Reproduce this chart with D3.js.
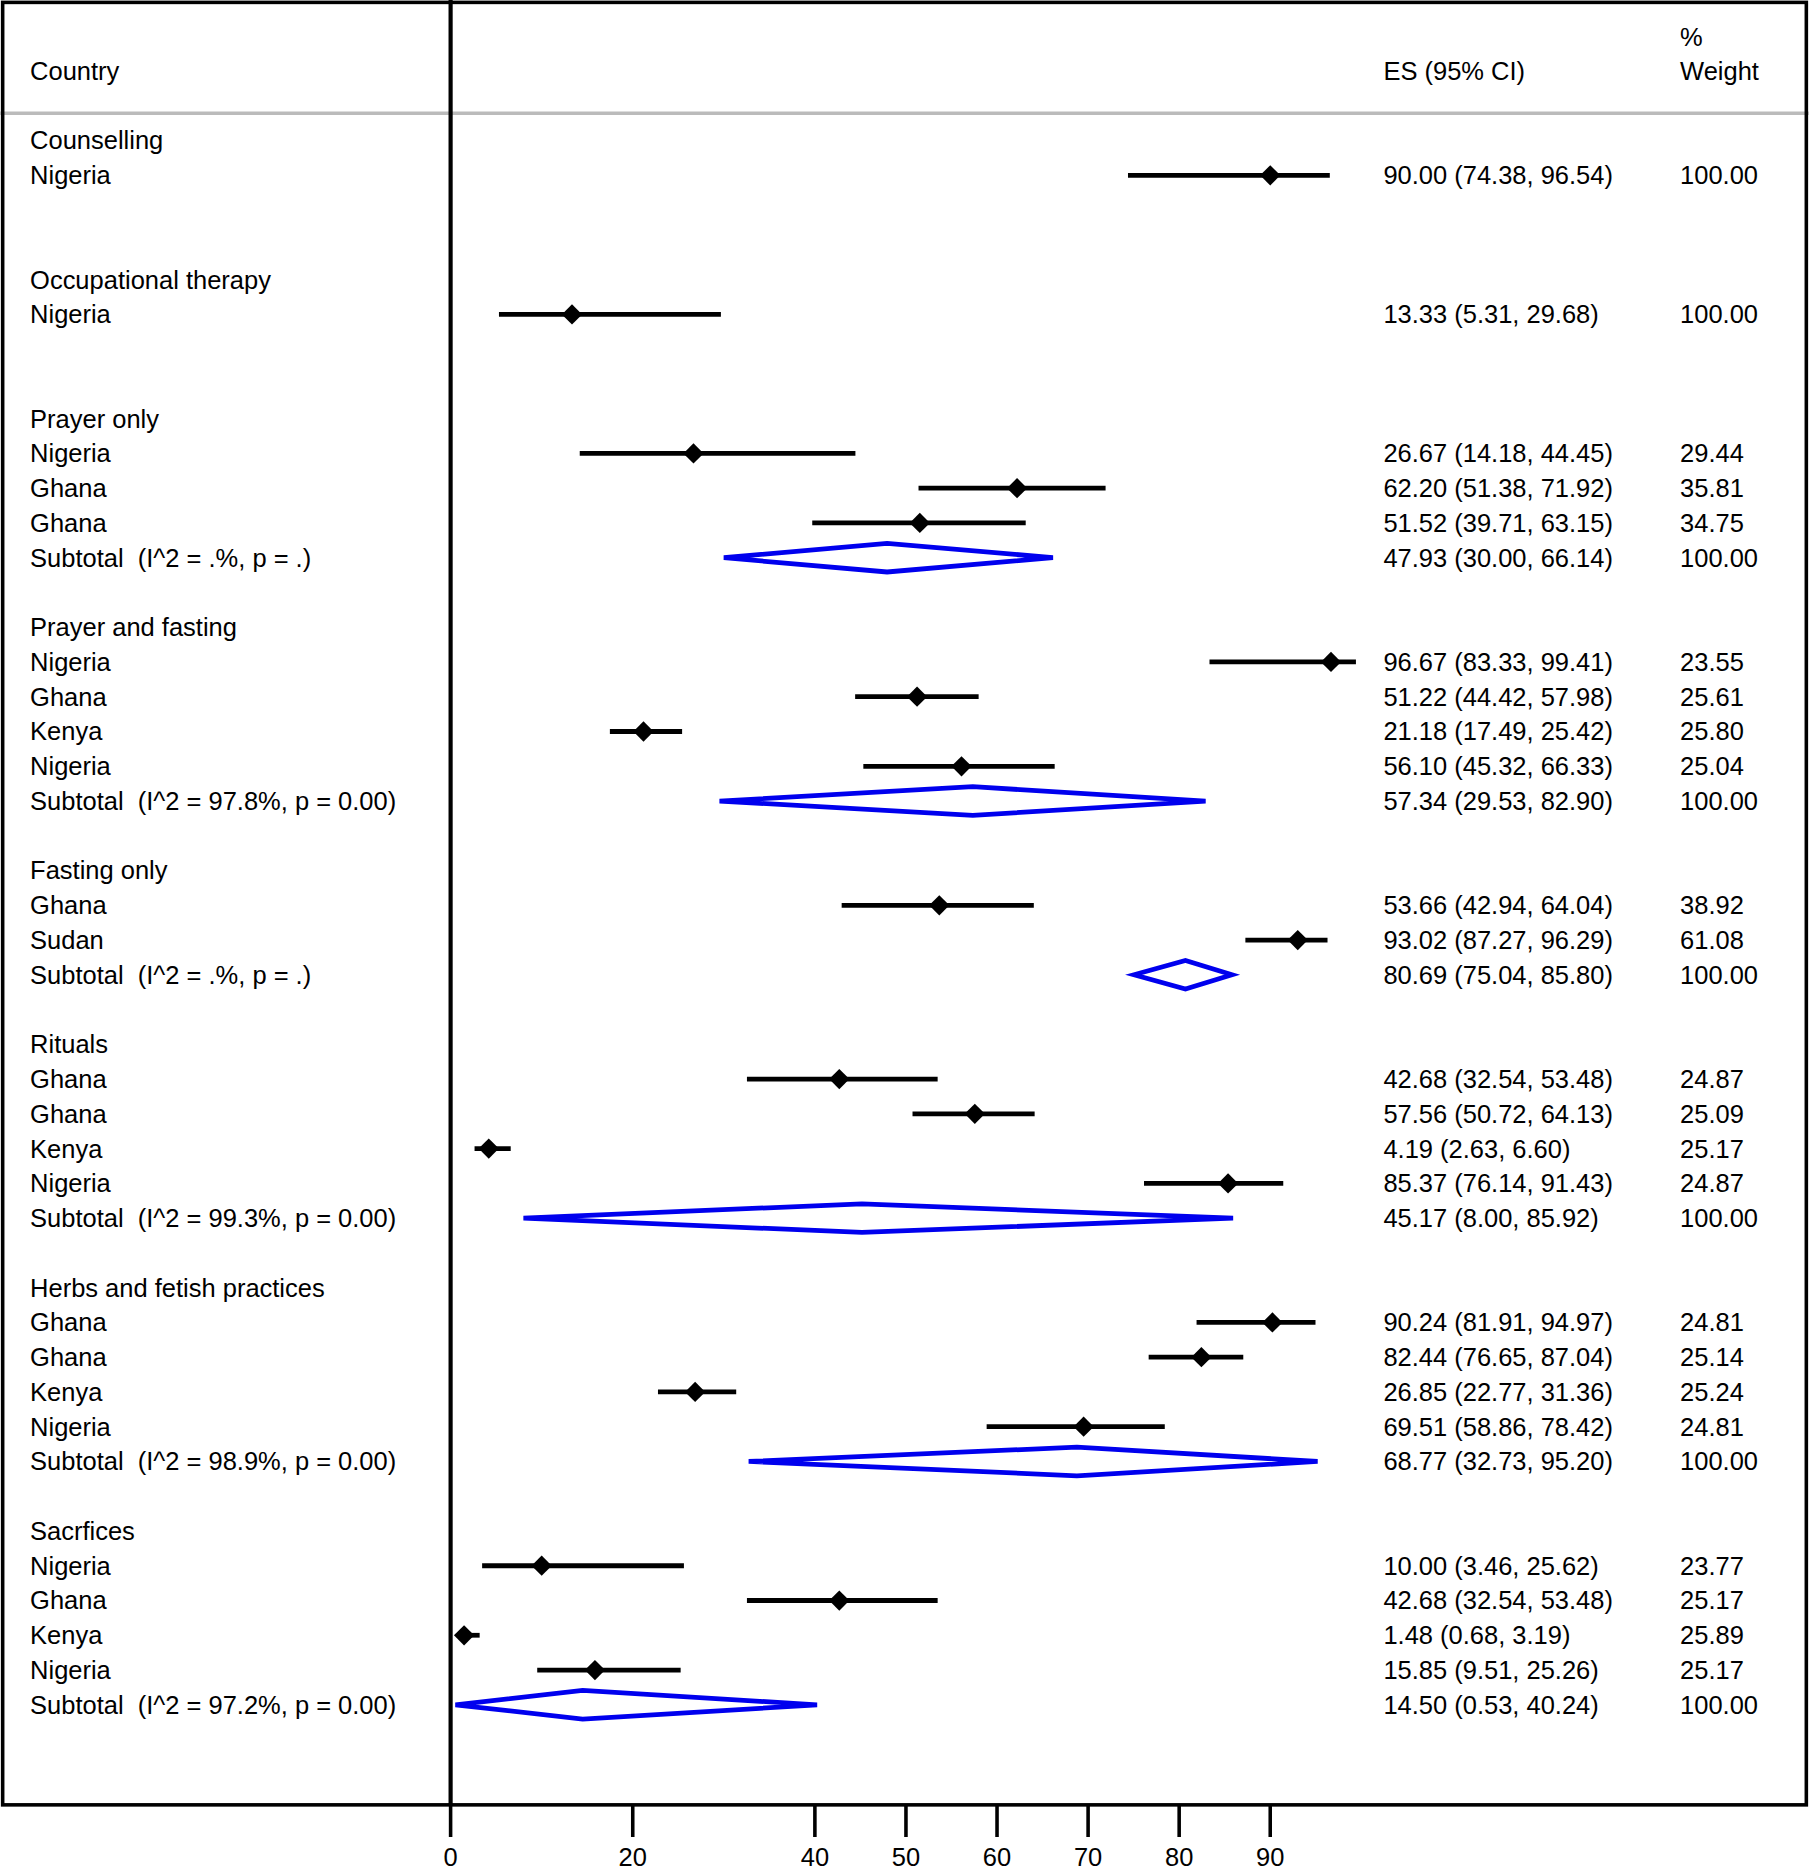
<!DOCTYPE html>
<html><head><meta charset="utf-8">
<script src="https://cdn.jsdelivr.net/npm/d3@7"></script>
<style>body{margin:0;background:#fff}text{font-family:"Liberation Sans",Arial,sans-serif;white-space:pre}</style>
</head><body>
<svg id="c" width="1809" height="1868" viewBox="0 0 1518 1568"></svg>
<script>
// row index, label, type (h=heading, s=study, t=subtotal), es, lo, hi, weight
const rowIdx = [0,1,4,5,8,9,10,11,12,14,15,16,17,18,19,21,22,23,24,26,27,28,29,30,31,33,34,35,36,37,38,40,41,42,43,44,45];
const labels = ["Counselling","Nigeria","Occupational therapy","Nigeria","Prayer only","Nigeria","Ghana","Ghana","Subtotal  (I^2 = .%, p = .)",
"Prayer and fasting","Nigeria","Ghana","Kenya","Nigeria","Subtotal  (I^2 = 97.8%, p = 0.00)",
"Fasting only","Ghana","Sudan","Subtotal  (I^2 = .%, p = .)",
"Rituals","Ghana","Ghana","Kenya","Nigeria","Subtotal  (I^2 = 99.3%, p = 0.00)",
"Herbs and fetish practices","Ghana","Ghana","Kenya","Nigeria","Subtotal  (I^2 = 98.9%, p = 0.00)",
"Sacrfices","Nigeria","Ghana","Kenya","Nigeria","Subtotal  (I^2 = 97.2%, p = 0.00)"];
const types = ["h","s","h","s","h","s","s","s","t","h","s","s","s","s","t","h","s","s","t","h","s","s","s","s","t","h","s","s","s","s","t","h","s","s","s","s","t"];
const es = [null,90.00,null,13.33,null,26.67,62.20,51.52,47.93,null,96.67,51.22,21.18,56.10,57.34,null,53.66,93.02,80.69,null,42.68,57.56,4.19,85.37,45.17,null,90.24,82.44,26.85,69.51,68.77,null,10.00,42.68,1.48,15.85,14.50];
const lo = [null,74.38,null,5.31,null,14.18,51.38,39.71,30.00,null,83.33,44.42,17.49,45.32,29.53,null,42.94,87.27,75.04,null,32.54,50.72,2.63,76.14,8.00,null,81.91,76.65,22.77,58.86,32.73,null,3.46,32.54,0.68,9.51,0.53];
const hi = [null,96.54,null,29.68,null,44.45,71.92,63.15,66.14,null,99.41,57.98,25.42,66.33,82.90,null,64.04,96.29,85.80,null,53.48,64.13,6.60,91.43,85.92,null,94.97,87.04,31.36,78.42,95.20,null,25.62,53.48,3.19,25.26,40.24];
const wt = [null,"100.00",null,"100.00",null,"29.44","35.81","34.75","100.00",null,"23.55","25.61","25.80","25.04","100.00",null,"38.92","61.08","100.00",null,"24.87","25.09","25.17","24.87","100.00",null,"24.81","25.14","25.24","24.81","100.00",null,"23.77","25.17","25.89","25.17","100.00"];
const ticks = [0,20,40,50,60,70,80,90];

const svg = d3.select("#c");
const x = d3.scaleLinear().domain([0,90]).range([378,1066]);
const y = d3.scaleLinear().domain([0,45]).range([118,1431]);
const rows = rowIdx.map((r,i)=>({r,l:labels[i],t:types[i],es:es[i],lo:lo[i],hi:hi[i],w:wt[i]}));
const fs = 21.4;
// frame
svg.append("line").attr("x1",0).attr("x2",1518).attr("y1",95).attr("y2",95).attr("stroke","#bbb").attr("stroke-width",3);
svg.append("rect").attr("x",2).attr("y",2).attr("width",1514).attr("height",1513).attr("fill","none").attr("stroke","#000").attr("stroke-width",3);
svg.append("line").attr("x1",x(0)).attr("x2",x(0)).attr("y1",0).attr("y2",1515).attr("stroke","#000").attr("stroke-width",3.5);
// headers
const hd=[["Country",25,60],["ES (95% CI)",1161,60],["%",1410,31],["Weight",1410,60]];
hd.forEach(h=>svg.append("text").attr("x",h[1]).attr("y",h[2]).attr("dy","0.35em").attr("font-size",fs).text(h[0]));
// labels
svg.selectAll(".lab").data(rows).join("text").attr("x",25).attr("y",d=>y(d.r)).attr("dy","0.35em").attr("font-size",fs).text(d=>d.l);
const st = rows.filter(d=>d.es!==null);
svg.selectAll(".es").data(st).join("text").attr("x",1161).attr("y",d=>y(d.r)).attr("dy","0.35em").attr("font-size",fs)
  .text(d=>`${d.es.toFixed(2)} (${d.lo.toFixed(2)}, ${d.hi.toFixed(2)})`);
svg.selectAll(".wt").data(st).join("text").attr("x",1410).attr("y",d=>y(d.r)).attr("dy","0.35em").attr("font-size",fs).text(d=>d.w);
// studies
const s = st.filter(d=>d.t==="s");
svg.selectAll(".ci").data(s).join("line").attr("x1",d=>x(d.lo)).attr("x2",d=>x(d.hi)).attr("y1",d=>y(d.r)).attr("y2",d=>y(d.r)).attr("stroke","#000").attr("stroke-width",4);
svg.selectAll(".pt").data(s).join("path").attr("d",d=>{const cx=x(d.es),cy=y(d.r),k=8.5;return `M${cx-k},${cy}L${cx},${cy-k}L${cx+k},${cy}L${cx},${cy+k}Z`;}).attr("fill","#000");
// subtotals
const t = st.filter(d=>d.t==="t");
svg.selectAll(".dm").data(t).join("path").attr("d",d=>{const cy=y(d.r),k=12;return `M${x(d.lo)},${cy}L${x(d.es)},${cy-k}L${x(d.hi)},${cy}L${x(d.es)},${cy+k}Z`;})
  .attr("fill","none").attr("stroke","#0000ee").attr("stroke-width",4);
// axis
const ax = svg.append("g");
ax.selectAll("line").data(ticks).join("line").attr("x1",d=>x(d)).attr("x2",d=>x(d)).attr("y1",1515).attr("y2",1542).attr("stroke","#000").attr("stroke-width",3);
ax.selectAll("text").data(ticks).join("text").attr("x",d=>x(d)).attr("y",1566).attr("text-anchor","middle").attr("font-size",fs).text(d=>d);
</script></body></html>
